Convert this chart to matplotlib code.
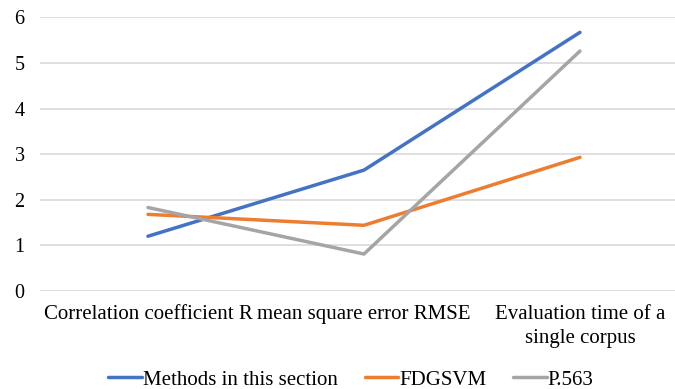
import matplotlib
matplotlib.use('Agg')
import matplotlib.pyplot as plt

categories = ['Correlation coefficient R', 'mean square error RMSE',
              'Evaluation time of a\nsingle corpus']
methods = [1.20, 2.65, 5.67]
fdgsvm = [1.68, 1.44, 2.93]
p563 = [1.83, 0.81, 5.26]

plt.rcParams['font.family'] = ['Liberation Serif', 'DejaVu Serif']

fig = plt.figure(figsize=(6.75, 3.89), dpi=100)
ax = fig.add_axes([40 / 675, 0.252, 1 - 40 / 675, 0.7035])

x = range(len(categories))
ax.plot(x, methods, color='#4472C4', lw=2.5, label='Methods in this section', solid_capstyle='round')
ax.plot(x, fdgsvm, color='#ED7D31', lw=2.5, label='FDGSVM', solid_capstyle='round')
ax.plot(x, p563, color='#A5A5A5', lw=2.5, label='P.563', solid_capstyle='round')

ax.set_ylim(0, 6)
ax.set_yticks(range(0, 7))
ax.set_xlim(-0.5, 2.44)
ax.set_xticks(list(x))
ax.set_xticklabels(categories, fontsize=15, linespacing=1.35)
ax.tick_params(axis='y', labelsize=14.5, length=0, pad=11)
ax.tick_params(axis='x', length=0, pad=10)
ax.grid(axis='y', color='#D9D9D9', lw=1.2)
ax.set_axisbelow(True)
for s in ax.spines.values():
    s.set_visible(False)

fig.legend(loc='lower center', bbox_to_anchor=(0.52, -0.05), ncol=3, frameon=False,
           fontsize=15, handlelength=1.6, handletextpad=0.05, columnspacing=1.3)

fig.savefig('out.png', dpi=100)
